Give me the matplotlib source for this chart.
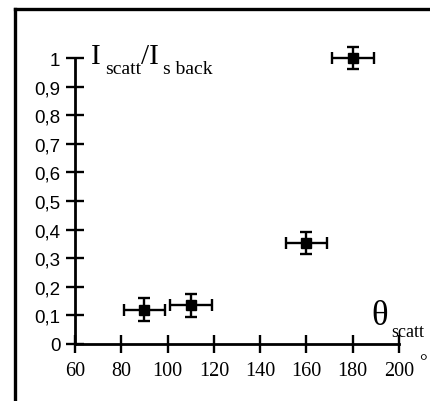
import matplotlib
matplotlib.use("Agg")
import matplotlib.pyplot as plt
from matplotlib.lines import Line2D

# --- Data ---
theta = [90, 110, 160, 180]
ratio = [0.12, 0.135, 0.353, 1.0]
theta_err = [9, 9, 9, 9]
ratio_err = [0.04, 0.04, 0.04, 0.04]

xticks = [60, 80, 100, 120, 140, 160, 180, 200]
yticks = [0, 0.1, 0.2, 0.3, 0.4, 0.5, 0.6, 0.7, 0.8, 0.9, 1]
ylabels = ["0", "0,1", "0,2", "0,3", "0,4", "0,5", "0,6", "0,7", "0,8", "0,9", "1"]

W, H = 430, 402
fig = plt.figure(figsize=(W / 100, H / 100), dpi=100)
ax = fig.add_axes([75/W, 57/H, 324/W, 286/H])

ax.errorbar(theta, ratio, xerr=theta_err, yerr=ratio_err, fmt='s', color='black',
            ms=7, elinewidth=1.7, capsize=4, capthick=1.7, clip_on=False)

ax.set_xlim(60, 200)
ax.set_ylim(0, 1)
ax.set_xticks(xticks)
ax.set_xticklabels([str(v) for v in xticks], family="Liberation Serif", fontsize=14.5)
ax.set_yticks(yticks)
ax.set_yticklabels(ylabels, family="Liberation Sans", fontsize=13.5)
ax.tick_params(direction='inout', length=13, width=1.7, color='black')
ax.tick_params(axis='x', pad=6)
ax.tick_params(axis='y', pad=4)

for s in ['top', 'right']:
    ax.spines[s].set_visible(False)
for s in ['left', 'bottom']:
    ax.spines[s].set_linewidth(2.0)


def px_text(x, y, s, size):
    fig.text(x / W, 1 - y / H, s, family="Liberation Serif", fontsize=size,
             ha='left', va='baseline')


# y title: I_scatt / I_s back
px_text(91, 64, "I", 21)
px_text(105, 74, "scatt", 14)
px_text(141, 64, "/I", 21)
px_text(163, 74, "s back", 14)

# x title: theta_scatt and degree sign
px_text(371, 325, "θ", 25)
px_text(391, 337, "scatt", 13)
px_text(419, 367, "°", 14)

# outer frame (top and left edges)
fig.add_artist(Line2D([15/W, 1], [1 - 10/H, 1 - 10/H], color='black', lw=2.4,
                      transform=fig.transFigure))
fig.add_artist(Line2D([15/W, 15/W], [0, 1 - 10/H], color='black', lw=2.4,
                      transform=fig.transFigure))

fig.savefig("out.png", dpi=100)
